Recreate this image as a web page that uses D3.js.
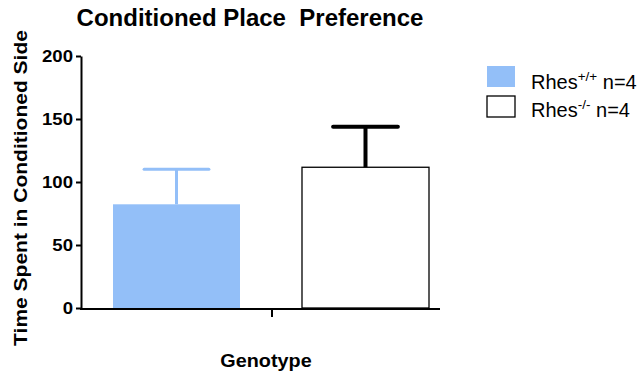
<!DOCTYPE html>
<html><head><meta charset="utf-8">
<script src="https://cdn.jsdelivr.net/npm/d3@7"></script>
<style>body{margin:0;background:#fff}svg{display:block}text{font-family:"Liberation Sans",Arial,sans-serif}</style>
</head><body>
<svg id="c" width="643" height="375"></svg>
<script>
const groups = ["Rhes+/+", "Rhes-/-"];
const means = [82.3, 111.7];
const sems = [27.8, 32.2];
const yTicks = [0, 50, 100, 150, 200];
const legendSup = ["+/+", "-/-"];
const legendN = ["n=4", "n=4"];
const fills = ["#93bff8", "#ffffff"];
const strokes = ["#93bff8", "#000000"];

const svg = d3.select("#c");
const y = d3.scaleLinear().domain([0, 200]).range([308, 56]);
const x = d3.scaleBand().domain(groups).range([113, 429]).paddingInner(0.328).paddingOuter(0);

function stretch(sel, k) {
  sel.each(function() {
    const w = this.getComputedTextLength();
    d3.select(this).attr("textLength", w * k).attr("lengthAdjust", "spacingAndGlyphs");
  });
}

// bars
svg.selectAll("rect.bar").data(groups).join("rect")
  .attr("x", d => x(d)).attr("width", x.bandwidth())
  .attr("y", (d,i) => y(means[i])).attr("height", (d,i) => y(0) - y(means[i]))
  .attr("fill", (d,i) => fills[i])
  .attr("stroke", (d,i) => i === 1 ? "#000" : "none").attr("stroke-width", 1.3);

// error bars
groups.forEach((g,i) => {
  const cx = x(g) + x.bandwidth()/2;
  const w = x.bandwidth()*0.255;
  const sw = i === 1 ? 4 : 3;
  svg.append("line").attr("x1", cx).attr("x2", cx)
    .attr("y1", y(means[i])).attr("y2", y(means[i] + sems[i]))
    .attr("stroke", strokes[i]).attr("stroke-width", sw);
  svg.append("line").attr("x1", cx - w).attr("x2", cx + w)
    .attr("y1", y(means[i] + sems[i])).attr("y2", y(means[i] + sems[i]))
    .attr("stroke", strokes[i]).attr("stroke-width", sw).attr("stroke-linecap", "round");
});

// y axis
const yAxis = svg.append("g").attr("transform", "translate(81,0)")
  .call(d3.axisLeft(y).tickValues(yTicks).tickSize(5).tickSizeOuter(0));
yAxis.select(".domain").attr("stroke-width", 2).attr("stroke", "#000");
yAxis.selectAll(".tick line").attr("stroke-width", 2);
const tl = yAxis.selectAll(".tick text").attr("font-size", 16).attr("font-weight", "bold")
  .attr("fill", "#000").attr("x", -8).attr("font-family", "Liberation Sans, Arial, sans-serif");
stretch(tl, 1.16);

// x axis
svg.append("line").attr("x1", 80).attr("x2", 440).attr("y1", 309).attr("y2", 309)
  .attr("stroke", "#000").attr("stroke-width", 2);
svg.append("line").attr("x1", 272).attr("x2", 272).attr("y1", 309).attr("y2", 317)
  .attr("stroke", "#000").attr("stroke-width", 2);

// title
svg.append("text").attr("x", 250).attr("y", 26).attr("text-anchor", "middle")
  .attr("font-size", 24).attr("font-weight", "bold").attr("xml:space", "preserve")
  .text("Conditioned Place  Preference");

// y label
const yl = svg.append("text").attr("transform", "translate(27,188) rotate(-90)").attr("text-anchor", "middle")
  .attr("font-size", 17.5).attr("font-weight", "bold").text("Time Spent in Conditioned Side");
stretch(yl, 1.2);

// x label
const xl = svg.append("text").attr("x", 266).attr("y", 367).attr("text-anchor", "middle")
  .attr("font-size", 18).attr("font-weight", "bold").text("Genotype");
stretch(xl, 1.1);

// legend
const lg = svg.append("g");
groups.forEach((g,i) => {
  const yy = 66 + i*30;
  lg.append("rect").attr("x", 487).attr("y", yy).attr("width", 28).attr("height", 21)
    .attr("fill", fills[i]).attr("stroke", i === 1 ? "#000" : "none").attr("stroke-width", 1.3);
  const t = lg.append("text").attr("x", 531).attr("y", 88.5 + i*28.5).attr("font-size", 20);
  t.append("tspan").text("Rhes");
  t.append("tspan").attr("dy", -8).attr("font-size", 13.5).text(legendSup[i]);
  t.append("tspan").attr("dy", 8).text(" " + legendN[i]);
});
</script>
</body></html>
